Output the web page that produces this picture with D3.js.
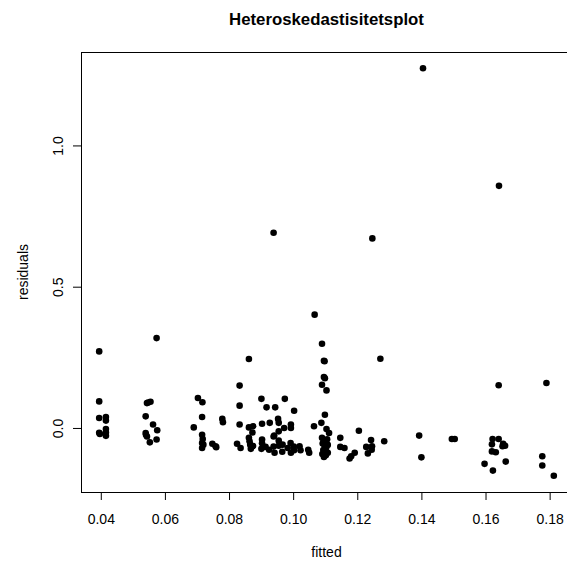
<!DOCTYPE html>
<html>
<head>
<meta charset="utf-8">
<script src="https://cdn.jsdelivr.net/npm/d3@7"></script>
<style>
  body { margin: 0; background: #fff; }
  text { font-family: "Liberation Sans", Arial, sans-serif; fill: #000; }
</style>
</head>
<body>
<div id="chart"></div>
<script>
// fitted values and residuals
var fitted = [
  0.0395, 0.0395, 0.0395, 0.0395, 0.0397, 0.0416, 0.0416, 0.0416, 0.0416, 0.0416,
  0.0574, 0.0544, 0.0548, 0.0555, 0.0540, 0.0563, 0.0576, 0.0540, 0.0541, 0.0544, 0.0553, 0.0574,
  0.0703, 0.0717, 0.0716, 0.0690, 0.0716, 0.0718, 0.0716, 0.0720, 0.0716, 0.0748, 0.0758, 0.0760, 0.0779, 0.0781,
  0.0833, 0.0862, 0.0833, 0.0833, 0.0825, 0.0836, 0.0862, 0.0875, 0.0873, 0.0862, 0.0864, 0.0866, 0.0868, 0.0875,
  0.0901, 0.0917, 0.0944, 0.0974, 0.1003, 0.0903, 0.0927, 0.0953, 0.0955, 0.0972, 0.0993, 0.0993, 0.0941, 0.0955,
  0.0903, 0.0901, 0.0914, 0.0925, 0.0939, 0.0955, 0.0955, 0.0942, 0.0967, 0.0983, 0.0993, 0.0903, 0.0939, 0.0966,
  0.1002, 0.1003, 0.0992, 0.0939,
  0.1020, 0.1023, 0.1047, 0.1050, 0.1065, 0.1067,
  0.1090, 0.1096, 0.1098, 0.1096, 0.1099, 0.1090, 0.1104, 0.1099, 0.1088, 0.1104, 0.1112, 0.1090, 0.1095, 0.1092,
  0.1098, 0.1103, 0.1094, 0.1100, 0.1091, 0.1102, 0.1096, 0.1108, 0.1108, 0.1106,
  0.1147, 0.1147, 0.1160, 0.1176, 0.1181, 0.1192, 0.1205, 0.1228, 0.1233, 0.1243, 0.1246, 0.1245, 0.1272, 0.1284, 0.1247,
  0.1393, 0.1400, 0.1405, 0.1495, 0.1504,
  0.1641, 0.1642, 0.1622, 0.1641, 0.1620, 0.1653, 0.1632, 0.1620, 0.1661, 0.1655, 0.1597, 0.1623, 0.1663,
  0.1790, 0.1777, 0.1777, 0.1813
];
var residuals = [
  0.271, 0.094, 0.035, -0.017, -0.021, 0.039, 0.026, -0.004, -0.016, -0.028,
  0.318, 0.088, 0.090, 0.093, 0.041, 0.012, -0.008, -0.018, -0.024, -0.030, -0.051, -0.041,
  0.106, 0.091, 0.039, 0.002, -0.024, -0.039, -0.053, -0.059, -0.071, -0.056, -0.065, -0.068, 0.032, 0.020,
  0.150, 0.244, 0.079, 0.012, -0.056, -0.071, 0.002, 0.006, -0.016, -0.035, -0.047, -0.059, -0.074, -0.064,
  0.103, 0.073, 0.073, 0.103, 0.061, 0.015, 0.018, 0.032, 0.018, 0.000, 0.012, 0.000, -0.027, -0.012,
  -0.041, -0.074, -0.067, -0.077, -0.030, -0.045, -0.063, -0.088, -0.059, -0.071, -0.088, -0.054, -0.066, -0.084,
  -0.066, -0.079, -0.053, 0.691,
  -0.065, -0.079, -0.077, -0.088, 0.006, 0.401,
  0.298, 0.238, 0.236, 0.180, 0.176, 0.153, 0.133, 0.047, 0.018, -0.004, -0.018, -0.035, -0.045, -0.055,
  -0.062, -0.070, -0.078, -0.085, -0.092, -0.097, -0.103, -0.088, -0.060, -0.040,
  -0.035, -0.067, -0.071, -0.108, -0.100, -0.088, -0.010, -0.067, -0.090, -0.043, -0.065, -0.077, 0.245, -0.047, 0.671,
  -0.027, -0.104, 1.273, -0.039, -0.039,
  0.151, 0.857, -0.039, -0.039, -0.058, -0.065, -0.086, -0.083, -0.063, -0.056, -0.127, -0.151, -0.119,
  0.159, -0.100, -0.133, -0.169
];
var xTicks = [0.04, 0.06, 0.08, 0.10, 0.12, 0.14, 0.16, 0.18];
var yTicks = [0.0, 0.5, 1.0];

var data = fitted.map(function(f, i) { return { x: f, y: residuals[i] } });

var W = 567, H = 565;
var plot = { left: 81, right: 572, top: 52, bottom: 492 };

var svg = d3.select("#chart")
  .append("svg")
  .attr("width", W)
  .attr("height", H);

// R style: pad data range by 4%
function padded(ext) {
  var d = (ext[1] - ext[0]) * 0.04;
  return [ext[0] - d, ext[1] + d];
}

var x = d3.scaleLinear()
          .domain(padded(d3.extent(fitted)))
          .range([plot.left, plot.right]);
var y = d3.scaleLinear()
          .domain(padded(d3.extent(residuals)))
          .range([plot.bottom, plot.top]);

// title
svg.append("text")
   .attr("x", (plot.left + plot.right) / 2)
   .attr("y", 25)
   .attr("text-anchor", "middle")
   .style("font-size", "16.8px")
   .style("font-weight", "bold")
   .text("Heteroskedastisitetsplot");

// x axis
var xAxis = svg.append("g")
   .attr("transform", "translate(0," + plot.bottom + ")")
   .call(d3.axisBottom(x).tickValues(xTicks).tickSize(8)
           .tickFormat(d3.format(".2f")));
xAxis.attr("font-size", null).attr("font-family", null);
xAxis.selectAll(".tick text").style("font-size", "14px").attr("dy", 0).attr("y", 32);
xAxis.select(".domain")
     .attr("d", "M" + x(xTicks[0]) + ",0.5H" + x(xTicks[xTicks.length - 1]));

// y axis
var yAxis = svg.append("g")
   .attr("transform", "translate(" + plot.left + ",0)")
   .call(d3.axisLeft(y).tickValues(yTicks).tickSize(8)
           .tickFormat(d3.format(".1f")));
yAxis.attr("font-size", null).attr("font-family", null);
yAxis.selectAll(".tick text")
     .style("font-size", "14px")
     .attr("x", 0).attr("dy", 0)
     .attr("text-anchor", "middle")
     .attr("transform", "translate(-18,0) rotate(-90)");
yAxis.select(".domain")
     .attr("d", "M0.5," + y(yTicks[0]) + "V" + y(yTicks[yTicks.length - 1]));

// box
svg.append("rect")
   .attr("x", plot.left + 0.5)
   .attr("y", plot.top + 0.5)
   .attr("width", plot.right - plot.left)
   .attr("height", plot.bottom - plot.top)
   .attr("fill", "none")
   .attr("stroke", "#000")
   .attr("stroke-width", 1);

// axis titles
svg.append("text")
   .attr("x", (plot.left + plot.right) / 2)
   .attr("y", 557)
   .attr("text-anchor", "middle")
   .style("font-size", "14px")
   .text("fitted");

svg.append("text")
   .attr("transform", "translate(28," + (plot.top + plot.bottom) / 2 + ") rotate(-90)")
   .attr("text-anchor", "middle")
   .style("font-size", "14px")
   .text("residuals");

// points
svg.append("g")
   .selectAll("circle")
   .data(data)
   .enter()
   .append("circle")
   .attr("cx", function(d) { return x(d.x) })
   .attr("cy", function(d) { return y(d.y) })
   .attr("r", 3.3)
   .attr("fill", "#000");
</script>
</body>
</html>
